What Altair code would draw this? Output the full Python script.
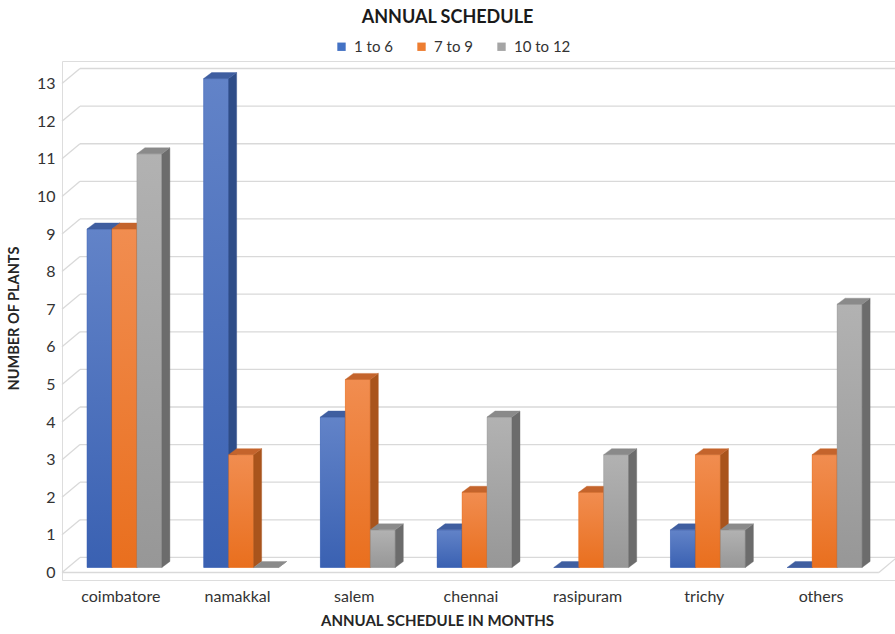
import altair as alt
import pandas as pd

# ---- values ----
categories = ["coimbatore", "namakkal", "salem", "chennai", "rasipuram", "trichy", "others"]
series = ["1 to 6", "7 to 9", "10 to 12"]
months_1_6 = [9, 13, 4, 1, 0, 1, 0]
months_7_9 = [9, 3, 5, 2, 2, 3, 3]
months_10_12 = [11, 0, 1, 4, 3, 1, 7]
y_ticks = list(range(14))

# ---- styling of the pseudo-3D columns ----
legend_colors = ["#4472C4", "#ED7D31", "#A5A5A5"]
front_grad = [("#6283C8", "#3A61B2"), ("#F18D50", "#E96F1E"), ("#B2B2B2", "#979797")]
side_colors = ["#2F4D88", "#A9541C", "#6C6C6C"]
top_colors = ["#3F5EA0", "#C4642C", "#8A8A8A"]

FONT = "Lato"
BAR_W = 0.214          # column width, in category units
DX, DY = 0.0686, 0.16  # column depth (x units, y units)
BASE = 0.133           # columns stand slightly behind the front edge of the floor
WX, WY = 0.154, 0.40   # back wall offset
X_MAX = 7.138

values = [months_1_6, months_7_9, months_10_12]
fronts, sides, tops = [], [], []
for j, (name, vals) in enumerate(zip(series, values)):
    for i, v in enumerate(vals):
        x0 = i + BAR_W * (j + 1)
        x1 = x0 + BAR_W
        t = BASE + v
        bid = f"b{i}_{j}"
        fronts.append(dict(series=name, s=j, cat=categories[i], value=v,
                           x0=x0, x1=x1, y0=BASE, y1=t))
        sides += [dict(bid=bid, s=j, k=0, px=x1, lo=BASE, hi=t),
                  dict(bid=bid, s=j, k=1, px=x1 + DX, lo=BASE + DY, hi=t + DY)]
        tops += [dict(bid=bid, s=j, k=0, px=x0, lo=t, hi=t),
                 dict(bid=bid, s=j, k=1, px=x0 + DX, lo=t, hi=t + DY),
                 dict(bid=bid, s=j, k=2, px=x1, lo=t, hi=t + DY),
                 dict(bid=bid, s=j, k=3, px=x1 + DX, lo=t + DY, hi=t + DY)]

fronts = pd.DataFrame(fronts)
sides = pd.DataFrame(sides)
tops = pd.DataFrame(tops)

xs = alt.Scale(domain=[0, X_MAX], nice=False, zero=False)
ys = alt.Scale(domain=[-0.2, 13.6], nice=False, zero=False)

label_expr = "[" + ",".join(f"'{c}'" for c in categories) + "][floor(datum.value)]"

x_axis = alt.Axis(values=[i + 0.5 for i in range(len(categories))], labelExpr=label_expr,
                  domain=False, ticks=False, grid=False, labelFont=FONT, labelFontSize=16,
                  labelColor="#333333", labelPadding=8,
                  title="ANNUAL SCHEDULE IN MONTHS", titleFont=FONT, titleFontSize=15,
                  titleFontWeight="bold", titleColor="#262626", titleX=375, titleY=40,
                  titleAlign="center", titleBaseline="middle")
y_axis = alt.Axis(values=y_ticks, domain=False, ticks=False, grid=False, labelFont=FONT,
                  labelFontSize=16, labelColor="#333333", labelPadding=7,
                  title="NUMBER OF PLANTS", titleFont=FONT, titleFontSize=14.5,
                  titleFontWeight="bold", titleColor="#262626", titleAngle=-90,
                  titleX=-48, titleY=257, titleAlign="center", titleBaseline="middle")


def X(field):
    return alt.X(field, scale=xs, axis=x_axis, title="ANNUAL SCHEDULE IN MONTHS")


def Y(field):
    return alt.Y(field, scale=ys, axis=y_axis, title="NUMBER OF PLANTS")


# back-wall gridlines, their slanted joins to the front edge, and the floor edge
grid_df = pd.DataFrame({"v": y_ticks})
grid_df["yb"] = grid_df["v"] + WY
grid_df["xa"] = WX
grid_df["xb"] = X_MAX
grid_df["x0"] = 0.0

gridlines = alt.Chart(grid_df).mark_rule(color="#D9D9D9", strokeWidth=1.3).encode(
    x=X("xa:Q"), x2="xb:Q", y=Y("yb:Q"))
joins = alt.Chart(grid_df).mark_rule(color="#D9D9D9", strokeWidth=1.3).encode(
    x=X("x0:Q"), x2="xa:Q", y=Y("v:Q"), y2="yb:Q")

floor_df = pd.DataFrame({"xa": [0.0, float(len(categories))],
                         "xb": [float(len(categories)), len(categories) + WX],
                         "ya": [0.0, 0.0], "yb": [0.0, WY]})
floor = alt.Chart(floor_df).mark_rule(color="#D9D9D9", strokeWidth=1.3).encode(
    x=X("xa:Q"), x2="xb:Q", y=Y("ya:Q"), y2="yb:Q")

# flat-coloured fronts carry the legend
legend_layer = alt.Chart(fronts).mark_bar().encode(
    x=X("x0:Q"), x2="x1:Q", y=Y("y0:Q"), y2="y1:Q",
    color=alt.Color("series:N", sort=series,
                    scale=alt.Scale(domain=series, range=legend_colors),
                    legend=alt.Legend(title=None, orient="none", direction="horizontal",
                                      legendX=272, legendY=-22, symbolType="square",
                                      symbolSize=70, symbolStrokeWidth=0,
                                      labelFont=FONT, labelFontSize=15, labelColor="#333333",
                                      columnPadding=21, padding=0, labelOffset=5)))

layers = [gridlines, joins, floor, legend_layer]
for j in range(len(series)):
    grad = alt.Gradient(gradient="linear", x1=0, x2=0, y1=0, y2=1,
                        stops=[alt.GradientStop(color=front_grad[j][0], offset=0),
                               alt.GradientStop(color=front_grad[j][1], offset=1)])
    front = alt.Chart(fronts).transform_filter(alt.datum.s == j).mark_bar(
        fill=grad, stroke=front_grad[j][1], strokeWidth=0.4).encode(
        x=X("x0:Q"), x2="x1:Q", y=Y("y0:Q"), y2="y1:Q")
    side = alt.Chart(sides).transform_filter(alt.datum.s == j).mark_area(
        orient="vertical", fill=side_colors[j], stroke=side_colors[j], strokeWidth=0.4,
        fillOpacity=1).encode(
        x=X("px:Q"), y=Y("lo:Q"), y2="hi:Q", detail="bid:N")
    top = alt.Chart(tops).transform_filter(alt.datum.s == j).mark_area(
        orient="vertical", fill=top_colors[j], stroke=top_colors[j], strokeWidth=0.4,
        fillOpacity=1).encode(
        x=X("px:Q"), y=Y("lo:Q"), y2="hi:Q", detail="bid:N")
    layers += [front, side, top]

chart = alt.layer(*layers).properties(
    width=833, height=519,
    title=alt.TitleParams("ANNUAL SCHEDULE", font=FONT, fontSize=18, fontWeight="bold",
                          color="#1A1A1A", anchor="middle", dx=-31, offset=12),
    autosize=alt.AutoSizeParams(type="none"),
    padding={"left": 62, "top": 61, "right": 0, "bottom": 54},
).configure_view(stroke=None).configure(background="white")

chart.save("out.html", embed_options={"renderer": "svg", "actions": False})
